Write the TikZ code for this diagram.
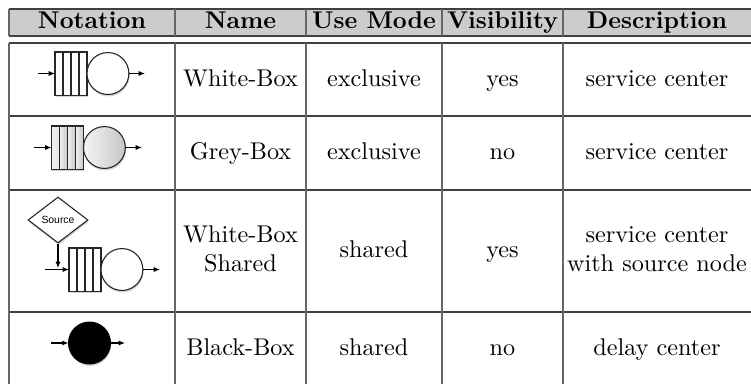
\documentclass[tikz,border=0pt]{standalone}
\usepackage{fontspec}
\newfontfamily\srcfont{Liberation Sans}
\usepackage{tikz}
\usetikzlibrary{shapes.geometric, arrows.meta, positioning, calc, shadows}

\tikzstyle{head} = [anchor=base, inner sep=0pt, font=\bfseries]
\tikzstyle{cell} = [anchor=base, inner sep=0pt]
\tikzstyle{twocell} = [anchor=center, inner sep=0pt, align=center]
\tikzstyle{hrule} = [draw=black!75, line width=0.6pt]
\tikzstyle{vrule} = [draw=black!60, line width=0.6pt]
\tikzstyle{arrow} = [line width=0.45pt, -{Latex[length=2.6pt, width=2.1pt]}]
\tikzstyle{shadowed} = [drop shadow={shadow xshift=0.3pt, shadow yshift=-0.8pt, opacity=0.35}]
\tikzstyle{queue} = [rectangle, draw=black!85, line width=0.45pt, fill=white,
minimum width=13.2pt, minimum height=17.8pt, inner sep=0pt, outer sep=0pt, shadowed]
\tikzstyle{server} = [circle, draw=black!85, line width=0.45pt, fill=white,
minimum size=17.3pt, inner sep=0pt, outer sep=0pt, shadowed]
\tikzstyle{source} = [diamond, draw=black!85, line width=0.45pt, fill=white,
minimum width=24.8pt, minimum height=19pt, inner sep=0pt, shadowed,
font=\srcfont\fontsize{4.3}{5}\selectfont]
\tikzset{
  slots/.style={path picture={
    \foreach \f in {0.25,0.5,0.75}
      \draw[line width=0.45pt, black!85]
        ($(path picture bounding box.south west)!\f!(path picture bounding box.south east)$) --
        ($(path picture bounding box.north west)!\f!(path picture bounding box.north east)$);
  }},
  greyslots/.style={path picture={
    \foreach \a/\b in {0/0.25,0.25/0.5,0.5/0.75,0.75/1}
      \shade[left color=gray!12, right color=gray!42]
        ($(path picture bounding box.south west)!\a!(path picture bounding box.south east)$) rectangle
        ($(path picture bounding box.north west)!\b!(path picture bounding box.north east)$);
    \foreach \f in {0.25,0.5,0.75}
      \draw[line width=0.45pt, black!85]
        ($(path picture bounding box.south west)!\f!(path picture bounding box.south east)$) --
        ($(path picture bounding box.north west)!\f!(path picture bounding box.north east)$);
  }}
}

\begin{document}
\begin{tikzpicture}[x=0.413pt, y=-0.413pt]

  \useasboundingbox (0,0) rectangle (751,383);

  % table frame
  \fill[black!20] (9,9) rectangle (760,36);
  \draw [hrule] (9,9) -- (760,9);
  \draw [hrule] (9,36) -- (760,36);
  \draw [hrule] (9,43) -- (760,43);
  \draw [hrule] (9,116) -- (760,116);
  \draw [hrule] (9,190) -- (760,190);
  \draw [hrule] (9,312) -- (760,312);
  \foreach \x in {9,175,306,442,563} {
    \draw [vrule] (\x,9) -- (\x,36);
    \draw [vrule] (\x,43) -- (\x,390);
  }

  % header
  \node (hNot) [head] at (92,28) {Notation};
  \node (hName) [head] at (240.5,28) {Name};
  \node (hMode) [head] at (374,28) {Use Mode};
  \node (hVis) [head] at (502.5,28) {Visibility};
  \node (hDesc) [head] at (657,28) {Description};

  % white-box
  \node (q1) [queue, slots] at (71,73.5) {};
  \node (c1) [server, right=0pt of q1] {};
  \coordinate (i1) at (38,73.5);
  \coordinate (o1) at (145,73.5);
  \draw [arrow] (i1) -- (q1);
  \draw [arrow] (c1) -- (o1);

  \node (name1) [cell] at (240.5,86) {White-Box};
  \node (mode1) [cell] at (374,86) {exclusive};
  \node (vis1) [cell] at (502.5,86) {yes};
  \node (desc1) [cell] at (657,86) {service center};

  % grey-box
  \node (q2) [queue, greyslots] at (67.5,147.5) {};
  \node (c2) [server, left color=gray!8, right color=gray!45, right=0pt of q2] {};
  \coordinate (i2) at (34,147.5);
  \coordinate (o2) at (142,147.5);
  \draw [arrow] (i2) -- (q2);
  \draw [arrow] (c2) -- (o2);

  \node (name2) [cell] at (240.5,159) {Grey-Box};
  \node (mode2) [cell] at (374,159) {exclusive};
  \node (vis2) [cell] at (502.5,159) {no};
  \node (desc2) [cell] at (657,159) {service center};

  % white-box shared
  \node (src) [source] at (58,220) {Source};
  \node (q3) [queue, slots] at (85,269.5) {};
  \node (c3) [server, right=0pt of q3] {};
  \coordinate (i3) at (45,269.5);
  \coordinate (j3) at (58,268);
  \coordinate (o3) at (160,269.5);
  \draw [arrow] (src) -- (j3);
  \draw [arrow] (i3) -- (q3);
  \draw [arrow] (c3) -- (o3);

  \node (name3) [twocell] at (240.5,249) {White-Box\\Shared};
  \node (mode3) [cell] at (374,257.5) {shared};
  \node (vis3) [cell] at (502.5,257.5) {yes};
  \node (desc3) [twocell] at (657,249) {service center\\with source node};

  % black-box
  \node (bb) [server, fill=black, draw=black] at (89.5,343) {};
  \coordinate (i4) at (51,343);
  \coordinate (o4) at (125,343);
  \draw [arrow] (i4) -- (bb);
  \draw [arrow] (bb) -- (o4);

  \node (name4) [cell] at (240.5,355) {Black-Box};
  \node (mode4) [cell] at (374,355) {shared};
  \node (vis4) [cell] at (502.5,355) {no};
  \node (desc4) [cell] at (657,355) {delay center};

\end{tikzpicture}
\end{document}
